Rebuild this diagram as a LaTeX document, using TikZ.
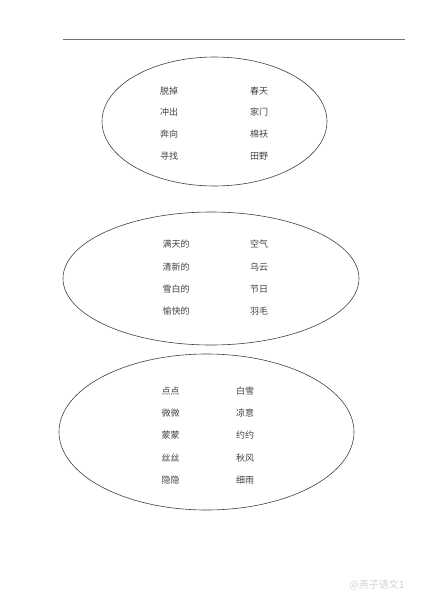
\documentclass[tikz,border=0pt]{standalone}
\usepackage{fontspec}
\newfontfamily\cjk{Noto Sans CJK SC}
\definecolor{inkgray}{gray}{0.25}
\definecolor{rulegray}{gray}{0.45}
\definecolor{markgray}{gray}{0.82}

\begin{document}
\begin{tikzpicture}[x=1pt,y=-1pt,
   word/.style={font=\cjk\fontsize{9}{9}\selectfont,text=inkgray,inner sep=0pt},
   ring/.style={draw=inkgray,line width=0.6pt}]
\useasboundingbox (0,0) rectangle (424,600);
\coordinate (rl) at (63,39.5);
\coordinate (rr) at (405,39.5);
\draw[rulegray,line width=1.3pt] (rl) -- (rr);
% first group
\draw[ring] (214.5,121.5) ellipse [x radius=112.5pt, y radius=64.5pt];
\node[word] (a1) at (169,90.7) {脱掉};
\node[word] (a2) at (169,112.5) {冲出};
\node[word] (a3) at (169,134.5) {奔向};
\node[word] (a4) at (169,156.5) {寻找};
\node[word] (b1) at (259,90.7) {春天};
\node[word] (b2) at (259,112.5) {家门};
\node[word] (b3) at (259,134.5) {棉袄};
\node[word] (b4) at (259,156.5) {田野};
% second group
\draw[ring] (211,278.5) ellipse [x radius=148pt, y radius=66.5pt];
\node[word] (c1) at (176,244.3) {满天的};
\node[word] (c2) at (176,266.7) {清新的};
\node[word] (c3) at (176,289.2) {雪白的};
\node[word] (c4) at (176,311) {愉快的};
\node[word] (d1) at (259,244.3) {空气};
\node[word] (d2) at (259,266.7) {乌云};
\node[word] (d3) at (259,289.2) {节日};
\node[word] (d4) at (259,311) {羽毛};
% third group
\draw[ring] (206.5,432) ellipse [x radius=147.5pt, y radius=78pt];
\node[word] (e1) at (170.5,390.7) {点点};
\node[word] (e2) at (170.5,413.2) {微微};
\node[word] (e3) at (170.5,435.5) {蒙蒙};
\node[word] (e4) at (170.5,457.7) {丝丝};
\node[word] (e5) at (170.5,480) {隐隐};
\node[word] (f1) at (245,390.7) {白雪};
\node[word] (f2) at (245,413.2) {凉意};
\node[word] (f3) at (245,435.5) {约约};
\node[word] (f4) at (245,457.7) {秋风};
\node[word] (f5) at (245,480) {细雨};
\node[word,text=markgray,font=\cjk\fontsize{10}{10}\selectfont] (mark) at (377,585) {@燕子语文1};
\end{tikzpicture}
\end{document}
